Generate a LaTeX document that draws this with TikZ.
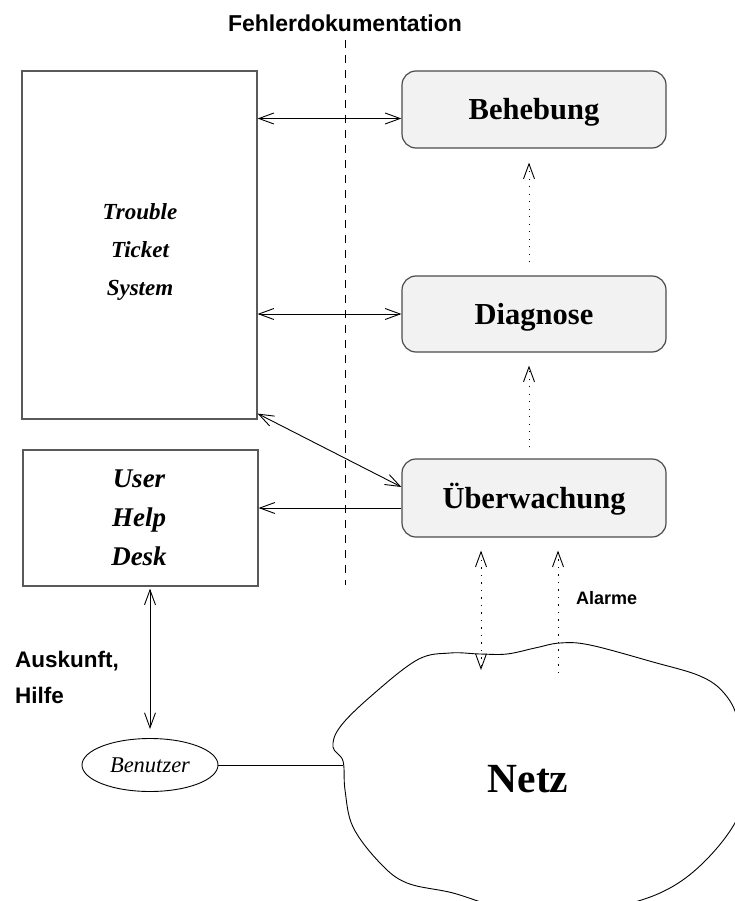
\documentclass[tikz,border=0pt]{standalone}
\usepackage{fontspec}
\setmainfont{Liberation Serif}
\setsansfont{Liberation Sans}
\usetikzlibrary{arrows.meta,shapes.geometric,calc}
\begin{document}
\begin{tikzpicture}[x=1pt,y=-1pt,
  vtip/.tip={Straight Barb[length=15pt,width=11pt,line width=0.9pt]},
  conn/.style={line width=0.9pt,black},
  biarr/.style={conn,vtip-vtip},
  arr/.style={conn,-vtip},
  dotline/.style={conn,dash pattern=on 1.3pt off 6.2pt},
  rbox/.style={draw=black!70,fill=black!5,line width=1.2pt,rounded corners=14pt,
    minimum width=264pt,inner sep=0pt,text height=20pt,text depth=0pt,
    font=\fontsize{30.5}{36}\selectfont\bfseries},
  sbox/.style={draw=black!65,line width=1.2pt,minimum width=235pt,inner sep=0pt},
  boxtext/.style={align=center,inner sep=0pt,font=\bfseries\itshape},
  sanslabel/.style={inner sep=0pt,font=\sffamily\bfseries}
]
\useasboundingbox (0,0) rectangle (735,901);

% boxes
\node[rbox,minimum height=77pt] (beh) at (534,109.5) {Behebung};
\node[rbox,minimum height=76pt] (dia) at (534,314) {Diagnose};
\node[rbox,minimum height=78pt] (ueb) at (534,498) {Überwachung};

\node[sbox,minimum height=348pt] (tts) at (139.5,245) {};
\node[boxtext,font=\fontsize{23}{38}\selectfont\bfseries\itshape] (ttstext) at (140,252) {Trouble\\Ticket\\System};
\node[sbox,minimum height=136pt] (uhd) at (140.5,518) {};
\node[boxtext,font=\fontsize{27}{39}\selectfont\bfseries\itshape] (uhdtext) at (139,518) {User\\Help\\Desk};

\node[ellipse,draw,line width=0.9pt,minimum width=136pt,minimum height=53pt,inner sep=0pt,
  font=\fontsize{22.5}{26}\selectfont\itshape] (ben) at (150,765) {Benutzer};

% labels
\node[sanslabel,anchor=base,font=\fontsize{23}{28}\selectfont\sffamily\bfseries] (fd) at (345,32) {Fehlerdokumentation};
\node[sanslabel,anchor=base west,font=\fontsize{18}{20}\selectfont\sffamily\bfseries] (alarme) at (576,604) {Alarme};
\node[sanslabel,anchor=base west,font=\fontsize{22.5}{26}\selectfont\sffamily\bfseries] (ausk) at (15,667) {Auskunft,};
\node[sanslabel,anchor=base west,font=\fontsize{22.5}{26}\selectfont\sffamily\bfseries] (hilfe) at (15,703) {Hilfe};

% dashed separator
\coordinate (dtop) at (345,40);
\coordinate (dbot) at (345,585);
\draw[conn,dash pattern=on 8pt off 7pt] (dtop) -- (dbot);

% cloud
\begin{scope}
\clip (0,0) rectangle (735,901);
\draw[line width=0.9pt] plot[smooth cycle,tension=0.6] coordinates {
 (343,761) (333,747) (340,727) (370,697) (417,660) (450,653) (480,654) (507,654)
 (535,648) (560,643) (590,645) (653,662) (700,676) (724,693) (738,720) (746,770)
 (738,817) (703,863) (660,893) (600,910) (550,912) (502,908) (453,893) (407,883)
 (380,863) (353,827) (345,790)};
\end{scope}
\node[inner sep=0pt,text height=27pt,text depth=0pt,font=\fontsize{41.5}{48}\selectfont\bfseries] (netz) at (528,779) {Netz};

% connectors
\coordinate (b1) at ([yshift=-9pt]beh.west);
\draw[biarr] (tts.east |- b1) -- (b1);
\draw[biarr] (tts.east |- dia.west) -- (dia.west);
\coordinate (d1) at ([yshift=6pt]tts.south east);
\coordinate (d2) at ([yshift=11pt]ueb.west);
\draw[biarr] (d1) -- (d2);
\coordinate (h1) at ([yshift=-10pt]ueb.west);
\draw[arr] (h1) -- (uhd.east |- h1);

\draw[dotline,-vtip,shorten <=13pt,shorten >=14pt] ([xshift=-5pt]dia.north) -- ([xshift=-5pt]beh.south);
\draw[dotline,-vtip,shorten <=11pt,shorten >=13pt] ([xshift=-5pt]ueb.north) -- ([xshift=-5pt]dia.south);

\coordinate (n1) at (481,670);
\draw[dotline,vtip-vtip,shorten <=13pt] ([xshift=-53pt]ueb.south) -- (n1);
\coordinate (n2) at (558,673);
\draw[dotline,-vtip,shorten >=13pt] (n2) -- ([xshift=24pt]ueb.south);

\draw[biarr,shorten <=2pt,shorten >=9pt] (uhd.south -| ben.north) -- (ben.north);
\coordinate (c1) at (343,763);
\draw[conn] (ben.east) -- (ben.east -| c1);
\end{tikzpicture}
\end{document}
